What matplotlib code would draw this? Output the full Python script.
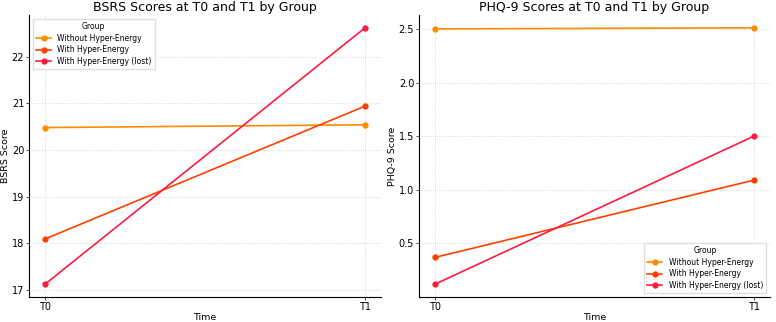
import matplotlib
matplotlib.use("Agg")
import matplotlib.pyplot as plt

# Data
times = ["T0", "T1"]
groups = ["Without Hyper-Energy", "With Hyper-Energy", "With Hyper-Energy (lost)"]
bsrs_without = [20.48, 20.54]
bsrs_with = [18.09, 20.94]
bsrs_lost = [17.12, 22.62]
phq_without = [2.50, 2.51]
phq_with = [0.37, 1.09]
phq_lost = [0.12, 1.50]

colors = ["#FF8C00", "#FF4000", "#FF1A40"]

fig, (ax1, ax2) = plt.subplots(1, 2, figsize=(7.76, 3.22), dpi=100)

for ax, series, title, ylabel, loc in [
    (ax1, [bsrs_without, bsrs_with, bsrs_lost], "BSRS Scores at T0 and T1 by Group", "BSRS Score", "upper left"),
    (ax2, [phq_without, phq_with, phq_lost], "PHQ-9 Scores at T0 and T1 by Group", "PHQ-9 Score", "lower right"),
]:
    for vals, name, c in zip(series, groups, colors):
        ax.plot(times, vals, marker="o", markersize=3.5, linewidth=1.2, color=c, label=name)
    ax.set_title(title, fontsize=9, pad=3)
    ax.set_xlabel("Time", fontsize=6.8, labelpad=1)
    ax.set_ylabel(ylabel, fontsize=6.8, labelpad=1)
    ax.tick_params(labelsize=7, length=2, width=0.5, pad=1.5)
    ax.grid(True, linestyle=":", linewidth=0.6, color="#cccccc")
    ax.spines["top"].set_visible(False)
    ax.spines["right"].set_visible(False)
    leg = ax.legend(title="Group", loc=loc, fontsize=5.5, title_fontsize=5.5,
                    fancybox=False, framealpha=0.9, edgecolor="#dddddd",
                    labelspacing=0.35, borderpad=0.4)

ax1.set_position([0.0374, 0.0776, 0.4536, 0.8758])
ax2.set_position([0.540, 0.0776, 0.452, 0.8758])
fig.savefig("out.png", dpi=100)
